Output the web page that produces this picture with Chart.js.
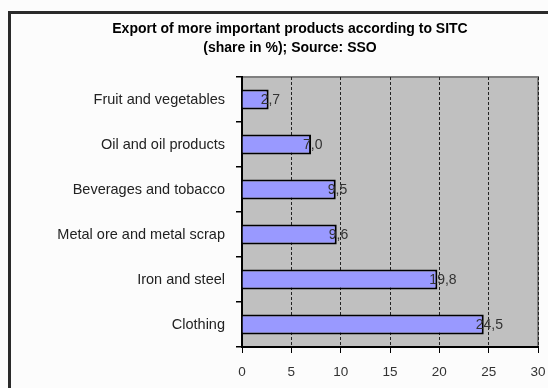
<!DOCTYPE html>
<html>
<head>
<meta charset="utf-8">
<script src="https://cdn.jsdelivr.net/npm/chart.js@4.4.1/dist/chart.umd.min.js"></script>
<style>
  html, body { margin: 0; padding: 0; background: #fff; }
  #wrap { width: 548px; height: 388px; position: relative; }
</style>
</head>
<body>
<div id="wrap"><canvas id="myChart" width="548" height="388"></canvas></div>
<script>
const categories = ['Fruit and vegetables', 'Oil and oil products', 'Beverages and tobacco',
  'Metal ore and metal scrap', 'Iron and steel', 'Clothing']
const shares = [2.7, 7.0, 9.5, 9.6, 19.8, 24.5]
const xTicks = [0, 5, 10, 15, 20, 25, 30]
const titleLines = ['Export of more important products according to SITC', '(share in %); Source: SSO']

// frame, grey plot area and title
const backdrop = {
  id: 'backdrop',
  beforeDraw(chart) {
    let c = chart.ctx
    let a = chart.chartArea
    c.save()
    c.fillStyle = '#fcfcfc'
    c.fillRect(0, 0, chart.width, chart.height)
    c.strokeStyle = '#2a2a2a'
    c.lineWidth = 3
    c.strokeRect(9.5, 12.5, 560, 400)
    c.fillStyle = '#c0c0c0'
    c.fillRect(a.left, a.top, a.right - a.left, a.bottom - a.top)
    c.strokeStyle = '#808080'
    c.lineWidth = 2
    c.beginPath()
    c.moveTo(a.left, a.top)
    c.lineTo(a.right, a.top)
    c.lineTo(a.right, a.bottom)
    c.stroke()
    c.fillStyle = '#000'
    c.font = 'bold 14px "Liberation Sans", Arial, sans-serif'
    c.textAlign = 'center'
    c.textBaseline = 'middle'
    c.fillText(titleLines[0], 290, 29)
    c.fillText(titleLines[1], 290, 48)
    c.restore()
  }
}

// value labels next to bar ends
const barLabels = {
  id: 'barLabels',
  afterDatasetsDraw(chart) {
    let c = chart.ctx
    let meta = chart.getDatasetMeta(0)
    c.save()
    c.fillStyle = '#333'
    c.font = '14px "Liberation Sans", Arial, sans-serif'
    c.textAlign = 'left'
    c.textBaseline = 'middle'
    meta.data.forEach((bar, i) => {
      let txt = shares[i].toFixed(1).replace('.', ',')
      c.fillText(txt, bar.x - 8, bar.y + 1)
    })
    c.restore()
  }
}

new Chart(document.getElementById('myChart'), {
  type: 'bar',
  data: {
    labels: categories,
    datasets: [{
      data: shares,
      backgroundColor: '#9999ff',
      borderColor: '#000',
      borderWidth: 2,
      borderSkipped: 'left',
      barPercentage: 0.88,
      categoryPercentage: 0.5
    }]
  },
  options: {
    indexAxis: 'y',
    responsive: false,
    animation: false,
    layout: { padding: { left: 0, right: 10, top: 77, bottom: 4 } },
    plugins: {
      legend: { display: false },
      tooltip: { enabled: false }
    },
    scales: {
      x: {
        min: 0,
        max: 30,
        afterBuildTicks: axis => { axis.ticks = xTicks.map(v => ({ value: v })) },
        afterFit: axis => {
          axis.height = 37
          axis.paddingLeft = 0
          axis.paddingRight = 0
        },
        grid: {
          color: '#222',
          lineWidth: 1,
          tickBorderDash: [],
          tickLength: 6,
          tickColor: '#000'
        },
        border: { color: '#000', width: 2, dash: [3, 2] },
        ticks: {
          color: '#333',
          padding: 11,
          font: { family: '"Liberation Sans", Arial, sans-serif', size: 13.5 }
        }
      },
      y: {
        afterFit: axis => { axis.width = 242 },
        grid: {
          drawOnChartArea: false,
          offset: true,
          tickLength: 6,
          tickColor: '#000',
          lineWidth: 1.5
        },
        border: { color: '#000', width: 2 },
        ticks: {
          color: '#222',
          padding: 11,
          font: { family: '"Liberation Sans", Arial, sans-serif', size: 14.5 }
        }
      }
    }
  },
  plugins: [backdrop, barLabels]
})
</script>
</body>
</html>
